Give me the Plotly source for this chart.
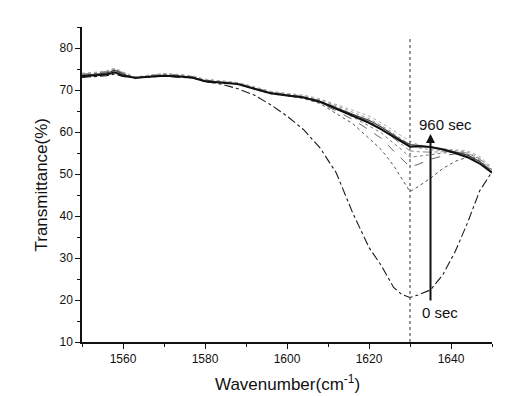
import plotly.graph_objects as go

wavenumber = [1550, 1553, 1556, 1558, 1560, 1563, 1566, 1570, 1574, 1577, 1580, 1584, 1588,
              1592, 1596, 1600, 1604, 1608, 1612, 1616, 1620, 1623, 1626, 1628, 1630, 1632,
              1635, 1638, 1641, 1644, 1647, 1650]

t_0 = [73.0, 73.2, 73.4, 73.8, 73.2, 72.9, 73.0, 73.3, 73.0, 72.9, 72.0, 71.4, 70.3,
       68.8, 66.5, 63.8, 60.6, 56.3, 50.3, 40.8, 32.5, 28.2, 23.0, 21.3, 20.6, 21.2,
       22.4, 26.0, 31.5, 38.3, 46.0, 50.5]
t_120 = [73.6, 73.9, 74.1, 74.6, 73.8, 72.7, 73.2, 73.6, 73.3, 73.0, 72.1, 71.8, 71.4,
         70.2, 69.1, 68.6, 68.0, 66.8, 64.5, 62.0, 58.5, 55.8, 52.0, 49.0, 45.8, 47.0,
         49.0, 51.3, 53.0, 54.0, 53.0, 50.5]
t_240 = [73.7, 74.0, 74.3, 74.9, 73.9, 72.9, 73.3, 73.7, 73.4, 73.1, 72.3, 71.9, 71.5,
         70.4, 69.3, 68.8, 68.3, 67.0, 65.0, 63.0, 60.5, 58.5, 55.5, 53.7, 51.7, 52.3,
         53.5, 54.3, 54.8, 54.5, 53.0, 50.6]
t_360 = [73.5, 73.8, 74.2, 74.8, 73.9, 72.8, 73.4, 73.8, 73.5, 73.1, 72.3, 72.0, 71.6,
         70.5, 69.4, 68.9, 68.4, 67.3, 65.6, 63.6, 61.5, 59.8, 57.3, 55.8, 54.0, 54.3,
         54.6, 55.0, 55.2, 54.8, 53.3, 50.8]
t_480 = [73.8, 74.0, 74.4, 75.0, 74.1, 72.9, 73.4, 73.8, 73.6, 73.2, 72.4, 72.0, 71.6,
         70.6, 69.5, 69.0, 68.5, 67.5, 66.0, 64.2, 62.5, 60.8, 58.5, 57.0, 55.5, 55.3,
         55.2, 55.3, 55.3, 55.0, 53.6, 51.0]
t_600 = [73.9, 74.1, 74.5, 75.1, 74.2, 73.0, 73.5, 73.9, 73.6, 73.3, 72.5, 72.1, 71.7,
         70.7, 69.6, 69.1, 68.6, 67.7, 66.3, 64.7, 63.2, 61.6, 59.6, 58.2, 57.0, 56.2,
         55.8, 55.6, 55.6, 55.2, 53.8, 51.2]
t_720 = [74.0, 74.2, 74.6, 75.2, 74.3, 73.1, 73.5, 73.9, 73.7, 73.3, 72.6, 72.2, 71.8,
         70.8, 69.7, 69.2, 68.8, 67.9, 66.6, 65.2, 63.8, 62.2, 60.3, 59.0, 57.8, 57.0,
         56.3, 56.0, 55.8, 55.5, 54.2, 51.5]
t_840 = [73.4, 73.7, 74.0, 74.7, 73.8, 72.8, 73.2, 73.5, 73.3, 73.0, 72.2, 71.9, 71.5,
         70.4, 69.3, 68.8, 68.3, 67.3, 65.7, 64.2, 62.8, 61.2, 59.3, 58.0, 57.0, 56.8,
         56.5, 56.0, 55.3, 54.5, 53.0, 50.5]
t_960 = [73.3, 73.5, 73.7, 74.2, 73.4, 72.9, 73.1, 73.4, 73.2, 72.9, 72.1, 71.8, 71.4,
         70.3, 69.2, 68.7, 68.2, 67.2, 65.5, 63.8, 62.2, 60.6, 58.8, 57.5, 56.5, 56.6,
         56.4, 55.8, 55.0, 54.0, 52.5, 50.3]

series = [
    ("0 sec", t_0, "#1a1a1a", 1.1, "dashdot"),
    ("120 sec", t_120, "#555555", 1.0, "dot"),
    ("240 sec", t_240, "#666666", 1.0, "dash"),
    ("360 sec", t_360, "#777777", 1.0, "dot"),
    ("480 sec", t_480, "#888888", 1.0, "dashdot"),
    ("600 sec", t_600, "#999999", 1.0, "dot"),
    ("720 sec", t_720, "#aaaaaa", 1.0, "dot"),
    ("840 sec", t_840, "#444444", 1.2, "solid"),
    ("960 sec", t_960, "#111111", 2.0, "solid"),
]

x_title = "Wavenumber(cm<sup>-1</sup>)"
y_title = "Transmittance(%)"

FONT = "Liberation Sans, Arial, sans-serif"
INK = "#111111"

fig = go.Figure()
for name, ys, color, w, dash in series:
    fig.add_trace(go.Scatter(x=wavenumber, y=ys, mode="lines", name=name,
                             line=dict(color=color, width=w, dash=dash),
                             showlegend=False))

marker_x = 1630
arrow_x = 1635

fig.add_shape(type="line", xref="x", yref="y", x0=marker_x, x1=marker_x, y0=10, y1=82.5,
              line=dict(color="#333333", width=1, dash="dot"))

fig.add_annotation(x=arrow_x, y=59.5, ax=arrow_x, ay=19.5, xref="x", yref="y",
                   axref="x", ayref="y", showarrow=True, arrowhead=2, arrowsize=0.9,
                   arrowwidth=2, arrowcolor=INK, text="")
fig.add_annotation(x=1631.7, y=61.7, xref="x", yref="y", text="960 sec", showarrow=False,
                   xanchor="left", yanchor="middle",
                   font=dict(family=FONT, size=15, color=INK))
fig.add_annotation(x=1632.4, y=17.0, xref="x", yref="y", text="0 sec", showarrow=False,
                   xanchor="left", yanchor="middle",
                   font=dict(family=FONT, size=15, color=INK))

# axis titles
fig.add_annotation(x=0.5, y=0, xref="paper", yref="paper", text=x_title, showarrow=False,
                   xanchor="center", yanchor="middle", yshift=-41,
                   font=dict(family=FONT, size=17, color=INK))
fig.add_annotation(x=0, y=0.5, xref="paper", yref="paper", text=y_title, showarrow=False,
                   xanchor="center", yanchor="middle", xshift=-41, textangle=-90,
                   font=dict(family=FONT, size=17, color=INK))

# page body has an 8px default margin, so the figure is drawn 8px smaller
fig.update_layout(
    width=502, height=388,
    margin=dict(l=74, r=18, t=19, b=54),
    paper_bgcolor="white", plot_bgcolor="white",
    font=dict(family=FONT, size=12, color=INK),
)
fig.update_xaxes(range=[1550, 1650], tick0=1560, dtick=20, ticks="outside", ticklen=5,
                 tickwidth=1.2, tickcolor=INK, showline=True, linecolor=INK,
                 linewidth=1.5, showgrid=False, zeroline=False, automargin=False,
                 tickfont=dict(family=FONT, size=12, color=INK),
                 minor=dict(ticks="outside", dtick=10, tick0=1550, ticklen=3,
                            tickcolor=INK, showgrid=False))
fig.update_yaxes(range=[10, 85], tick0=10, dtick=10, ticks="outside", ticklen=5,
                 tickwidth=1.2, tickcolor=INK, showline=True, linecolor=INK,
                 linewidth=1.5, showgrid=False, zeroline=False, automargin=False,
                 tickfont=dict(family=FONT, size=12, color=INK),
                 minor=dict(ticks="outside", dtick=5, tick0=10, ticklen=3,
                            tickcolor=INK, showgrid=False))

fig.write_html("out.html")
